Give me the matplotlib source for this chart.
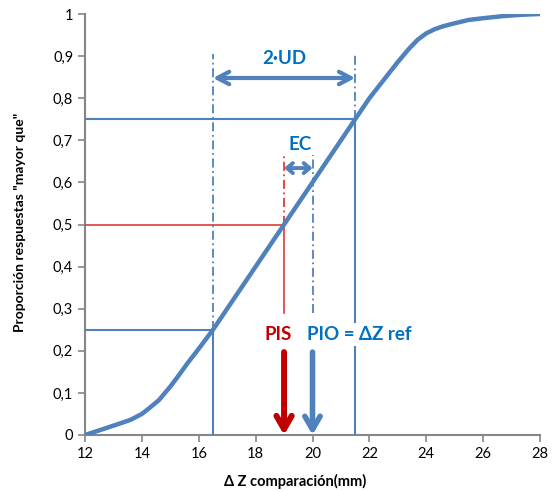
import matplotlib
matplotlib.use("Agg")
import matplotlib.pyplot as plt
from matplotlib.ticker import FuncFormatter

plt.rcParams["font.family"] = ["Lato", "DejaVu Sans"]

# curve
dz = [12, 12.5, 12.9, 13.3, 13.6, 14, 14.3, 14.6, 15, 15.3, 15.6, 16, 16.5, 17, 18,
      19, 20, 21, 21.5, 22, 22.5, 23, 23.4, 23.7, 24, 24.3, 24.6, 25, 25.5, 26,
      26.7, 27.3, 28]
prop = [0, 0.011, 0.02, 0.029, 0.036, 0.05, 0.066, 0.083, 0.115, 0.142, 0.17, 0.205,
        0.25, 0.3, 0.4, 0.5, 0.6, 0.7, 0.75, 0.8, 0.843, 0.886, 0.918, 0.939,
        0.954, 0.964, 0.971, 0.978, 0.986, 0.99, 0.995, 0.998, 1.0]

x_q25, x_q75 = 16.5, 21.5
x_pis, x_pio = 19, 20
y_q25, y_pis, y_q75 = 0.25, 0.5, 0.75

LINE = "#4F81BD"
TXT = "#0070C0"
RED_LINE = "#DC3B36"
RED = "#C00000"
GREY = "#868686"
DASHDOT = (0, (5, 2, 1, 2))

fig = plt.figure(figsize=(5.53, 4.91), dpi=100)
ax = fig.add_axes([85 / 553, 56 / 491, 455 / 553, 421 / 491])

ax.plot(dz, prop, color=LINE, lw=3.2, solid_capstyle="round",
        solid_joinstyle="round", zorder=5)

# quartile guides
ax.plot([12, x_q25, x_q25], [y_q25, y_q25, 0], color=LINE, lw=1.5, zorder=3)
ax.plot([12, x_q75, x_q75], [y_q75, y_q75, 0], color=LINE, lw=1.5, zorder=3)
ax.plot([x_q25, x_q25], [y_q25, 0.905], color=LINE, lw=1.3, ls=DASHDOT, zorder=3)
ax.plot([x_q75, x_q75], [y_q75, 0.903], color=LINE, lw=1.3, ls=DASHDOT, zorder=3)

# PIS guides
ax.plot([12, x_pis, x_pis], [y_pis, y_pis, 0.29], color=RED_LINE, lw=1.2, zorder=3)
ax.plot([x_pis, x_pis], [y_pis, 0.665], color=RED_LINE, lw=1.3, ls=DASHDOT, zorder=3)
ax.plot([x_pio, x_pio], [0.29, 0.665], color=LINE, lw=1.3, ls=DASHDOT, zorder=3)

# arrows
ax.annotate("", xy=(x_q25, 0.848), xytext=(x_q75, 0.848),
            arrowprops=dict(arrowstyle="<->,head_length=0.85,head_width=0.45",
                            color=LINE, lw=3, shrinkA=0, shrinkB=0), zorder=6)
ax.annotate("", xy=(x_pis, 0.634), xytext=(x_pio, 0.634),
            arrowprops=dict(arrowstyle="<->,head_length=0.42,head_width=0.36",
                            color=LINE, lw=2.8, shrinkA=0, shrinkB=0), zorder=6)
ax.annotate("", xy=(x_pis, 0.0), xytext=(x_pis, 0.197),
            arrowprops=dict(arrowstyle="->,head_length=0.95,head_width=0.55",
                            color=RED, lw=4.3, shrinkA=0, shrinkB=0), zorder=6)
ax.annotate("", xy=(x_pio, 0.0), xytext=(x_pio, 0.197),
            arrowprops=dict(arrowstyle="->,head_length=0.95,head_width=0.55",
                            color=LINE, lw=4.0, shrinkA=0, shrinkB=0), zorder=6)

ax.text(19.0, 0.895, "2·UD", color=TXT, fontsize=13.5, fontweight="bold",
        ha="center", va="center", zorder=7)
ax.text(19.56, 0.689, "EC", color=TXT, fontsize=13.5, fontweight="bold",
        ha="center", va="center", zorder=7)
ax.text(18.8, 0.238, "PIS", color=RED, fontsize=13.5, fontweight="bold",
        ha="center", va="center", zorder=7)
ax.text(21.63, 0.238, "PIO = ΔZ ref", color=TXT, fontsize=13.5, fontweight="bold",
        ha="center", va="center", zorder=7,
        bbox=dict(facecolor="white", edgecolor="none", pad=2))

ax.set_xlim(12, 28)
ax.set_ylim(0, 1)
ax.set_xticks(range(12, 29, 2))
ax.set_yticks([i / 10 for i in range(11)])
ax.yaxis.set_major_formatter(FuncFormatter(lambda v, p: f"{v:g}".replace(".", ",")))

for s in ["top", "right"]:
    ax.spines[s].set_visible(False)
for s in ["left", "bottom"]:
    ax.spines[s].set_color(GREY)
    ax.spines[s].set_linewidth(1.5)
ax.tick_params(colors=GREY, width=1.2, length=5, labelcolor="black", labelsize=10.5)

fig.text(20 / 553, 1 - 222 / 491, 'Proporción respuestas "mayor que"', rotation=90,
         ha="center", va="center", fontsize=10, fontweight="bold")
fig.text(295 / 553, 1 - 481 / 491, "Δ Z comparación(mm)",
         ha="center", va="center", fontsize=10.5, fontweight="bold")

fig.savefig("out.png", dpi=100)
